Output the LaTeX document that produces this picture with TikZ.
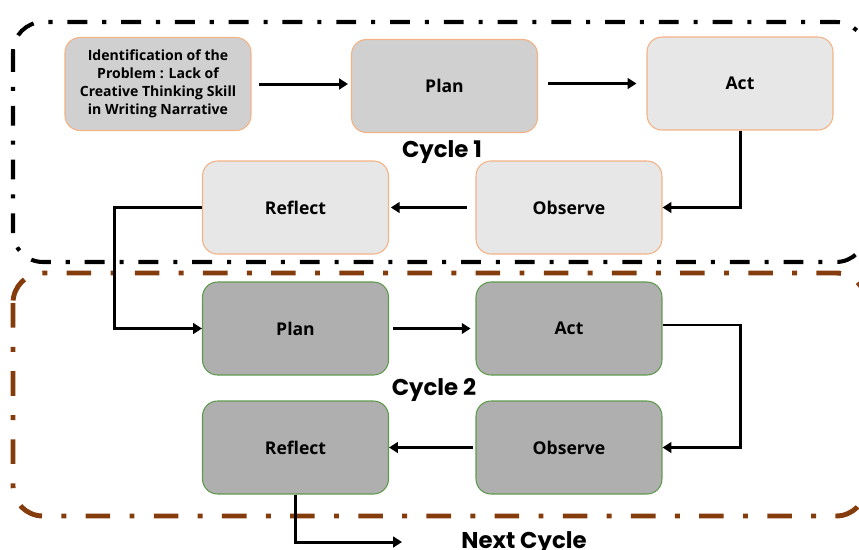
\documentclass[tikz,border=0pt]{standalone}
\usepackage{fontspec}
\setmainfont{Open Sans}
\newfontfamily\cyclefont{Poppins}
\usetikzlibrary{arrows.meta}
\definecolor{peach}{HTML}{F4B183}
\definecolor{leaf}{HTML}{5E9A4C}
\definecolor{rust}{HTML}{843C0C}
\definecolor{paleg}{HTML}{E7E7E7}
\definecolor{lightg}{HTML}{D0D0D0}
\definecolor{midg}{HTML}{AFAFAF}
\begin{document}
\begin{tikzpicture}[x=0.02cm, y=-0.02cm,
	stage/.style={draw, line width=0.6pt, rounded corners=0.3cm, minimum width=3.72cm, minimum height=1.86cm, align=center, font=\bfseries\fontsize{10}{12}\selectfont},
	first/.style={stage, draw=peach, fill=paleg},
	second/.style={stage, draw=leaf, fill=midg},
	link/.style={line width=1.7pt, -{Triangle[length=5pt, width=6pt]}},
	cyclelabel/.style={anchor=base, font=\cyclefont\bfseries\fontsize{13}{15}\selectfont}]
	\useasboundingbox (0,0) rectangle (859,549);
	\draw [line width=2.3pt, rounded corners=0.6cm, dash pattern={on 11.3pt off 8.5pt on 2.3pt off 8.5pt}] (13,22) rectangle (866,262);
	\draw [rust, line width=2.8pt, rounded corners=0.6cm, dash pattern={on 14pt off 11pt on 2.8pt off 11pt}] (13,273) rectangle (866,516);
	
	\node [first, fill=lightg, font=\bfseries\fontsize{8}{10.2}\selectfont] (ident) at (158,84) {Identification of the\\Problem : Lack of\\Creative Thinking Skill\\in Writing Narrative};
	\node [first, fill=lightg] (plan1) at (444.5,86) {Plan};
	\node [first] (act1) at (740,83.5) {Act};
	\node [first] (ref1) at (295.5,207.5) {Reflect};
	\node [first] (obs1) at (569,207.5) {Observe};
	\node [cyclelabel] (cyc1) at (442,157) {Cycle 1};
	
	\node [second] (plan2) at (295.5,328.5) {Plan};
	\node [second] (act2) at (569,328.5) {Act};
	\node [second] (ref2) at (295.5,447.5) {Reflect};
	\node [second] (obs2) at (569,447.5) {Observe};
	\node [cyclelabel] (cyc2) at (434,395) {Cycle 2};
	\node [cyclelabel] (next) at (524,548) {Next Cycle};
	\coordinate (nxt) at (402,542);
	
	\draw [link, shorten <=4.5pt, shorten >=1.7pt] (ident.east) -- (ident.east -| plan1.west);
	\draw [link, shorten <=5.7pt, shorten >=5.7pt] (plan1.east |- act1) -- (act1);
	\draw [link] (act1.south) |- (obs1.east);
	\draw [link, shorten <=5pt, shorten >=1pt] (obs1) -- (ref1);
	\draw [link] (ref1.west) --++ (-87,0) |- (plan2.west);
	\draw [link, shorten <=2.3pt, shorten >=2.8pt] (plan2) -- (act2);
	\draw [link] ([yshift=2pt]act2.east) -| ++(78,0) |- (obs2.east);
	\draw [link, shorten <=1.7pt] (obs2) -- (ref2);
	\draw [link] (ref2.south) |- (nxt);
\end{tikzpicture}
\end{document}
